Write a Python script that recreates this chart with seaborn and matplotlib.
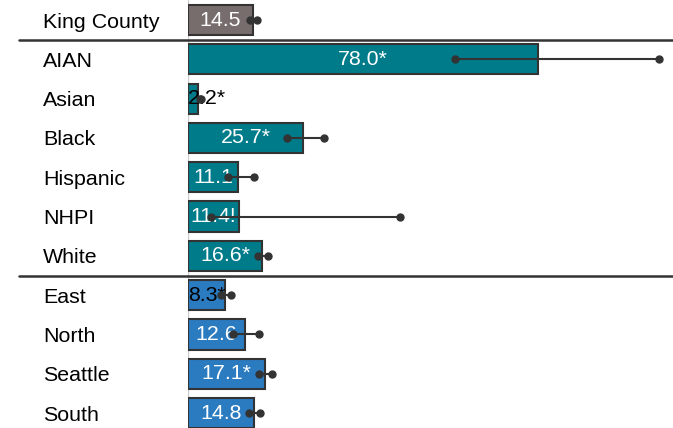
import numpy as np
import matplotlib
matplotlib.use('Agg')
import matplotlib.pyplot as plt
import seaborn as sns

# rates per group, with lower / upper confidence limits
groups = ['King County', 'AIAN', 'Asian', 'Black', 'Hispanic', 'NHPI', 'White',
          'East', 'North', 'Seattle', 'South']
values = [14.5, 78.0, 2.2, 25.7, 11.1, 11.4, 16.6, 8.3, 12.6, 17.1, 14.8]
lower = [13.8, 59.5, 2.7, 22.1, 9.0, 5.1, 15.7, 7.3, 10.1, 15.9, 13.7]
upper = [15.4, 105.0, 3.0, 30.2, 14.7, 47.2, 17.8, 9.6, 15.8, 18.7, 16.0]
labels = ['14.5', '78.0*', '2.2*', '25.7*', '11.1', '11.4!', '16.6*',
          '8.3*', '12.6', '17.1*', '14.8']

grey = '#776d6d'
teal = '#007b8a'
blue = '#2b7bc0'
bar_colors = [grey] + [teal] * 6 + [blue] * 4

sns.set_style('white')
plt.rcParams['font.family'] = ['Liberation Sans', 'DejaVu Sans']
plt.rcParams['text.color'] = 'black'
plt.rcParams['ytick.color'] = 'black'

fig = plt.figure(figsize=(6.73, 4.28), dpi=100)
ax = fig.add_axes([188 / 673, 0, 1 - 188 / 673, 1])

sns.barplot(x=values, y=groups, hue=groups, palette=bar_colors, legend=False,
            orient='h', edgecolor='#333333', linewidth=1.5, width=0.77,
            saturation=1, ax=ax)

# zero line
ax.axvline(0, color='#cccccc', lw=1, zorder=0)

# error bars: a line between the limits, dots at each end
for i in range(len(groups)):
    ax.plot([lower[i], upper[i]], [i, i], color='#333333', lw=1.5,
            marker='o', markersize=5, zorder=4)

# value labels
for i, v in enumerate(values):
    xpos = max(v / 2, 4.15)
    col = 'black' if v < 10 else 'white'
    ax.text(xpos, i, labels[i], ha='center', va='center', color=col,
            fontsize=15.4, zorder=3)

# group separators
for y in [0.52, 6.5]:
    ax.axhline(y, xmin=-(188 - 19) / 485, xmax=1, color='#333333', lw=1.8,
               clip_on=False, zorder=5)

ax.set_xlim(0, 485 / 4.487)
ax.set_ylim(10.38, -0.51)
ax.set_xticks([])
ax.set_xlabel('')
ax.set_ylabel('')
sns.despine(ax=ax, left=True, bottom=True)
ax.tick_params(axis='y', length=0, pad=145 * 0.72, labelsize=15.4,
               labelcolor='black')
for t in ax.get_yticklabels():
    t.set_ha('left')

fig.savefig('out.png', dpi=100)
